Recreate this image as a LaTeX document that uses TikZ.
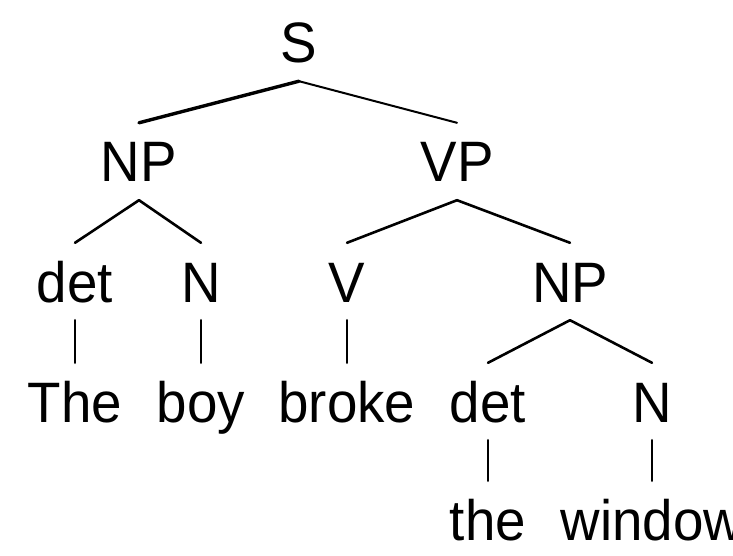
\documentclass[tikz,border=0pt]{standalone}
\usepackage{fontspec}
\setmainfont[FakeStretch=0.96]{Liberation Sans}
\usetikzlibrary{arrows, arrows.meta, positioning}

\tikzset{
	word/.style={anchor=base, font=\fontsize{57pt}{60pt}\selectfont,
		text height=41pt, text depth=0pt, inner xsep=2pt, inner ysep=18pt},
	branch/.style={line width=2.6pt, line cap=round}
}

\begin{document}
\begin{tikzpicture}[x=1pt,y=-1pt]
	\useasboundingbox (0,0) rectangle (733,556);

	% phrase levels
	\node[word] (s) at (299,63) {S};
	\node[word] (np) at (139,182) {NP};
	\node[word] (vp) at (457,182) {VP};

	\node[word] (det1) at (75,302) {det};
	\node[word] (n1) at (201,302) {N};
	\node[word] (v) at (347,302) {V};
	\node[word] (np2) at (570,302) {NP};

	% words of the sentence
	\node[word] (the1) at (75,422) {The};
	\node[word] (boy) at (201,422) {boy};
	\node[word] (broke) at (347,422) {broke};
	\node[word] (det2) at (488,422) {det};
	\node[word] (n2) at (652,422) {N};

	\node[word] (the2) at (488,540) {the};
	\node[word] (window) at (652,540) {window};

	\path[branch]
	(s.south) edge [line width=3.4pt] (np.north)
	(s.south) edge [line width=2pt] (vp.north)

	(np.south) edge (det1.north)
	(np.south) edge (n1.north)
	(vp.south) edge (v.north)
	(vp.south) edge (np2.north)

	(det1.south) edge (the1.north)
	(n1.south) edge (boy.north)
	(v.south) edge (broke.north)

	(np2.south) edge (det2.north)
	(np2.south) edge (n2.north)
	(det2.south) edge (the2.north)
	(n2.south) edge (window.north)
	;
\end{tikzpicture}
\end{document}
